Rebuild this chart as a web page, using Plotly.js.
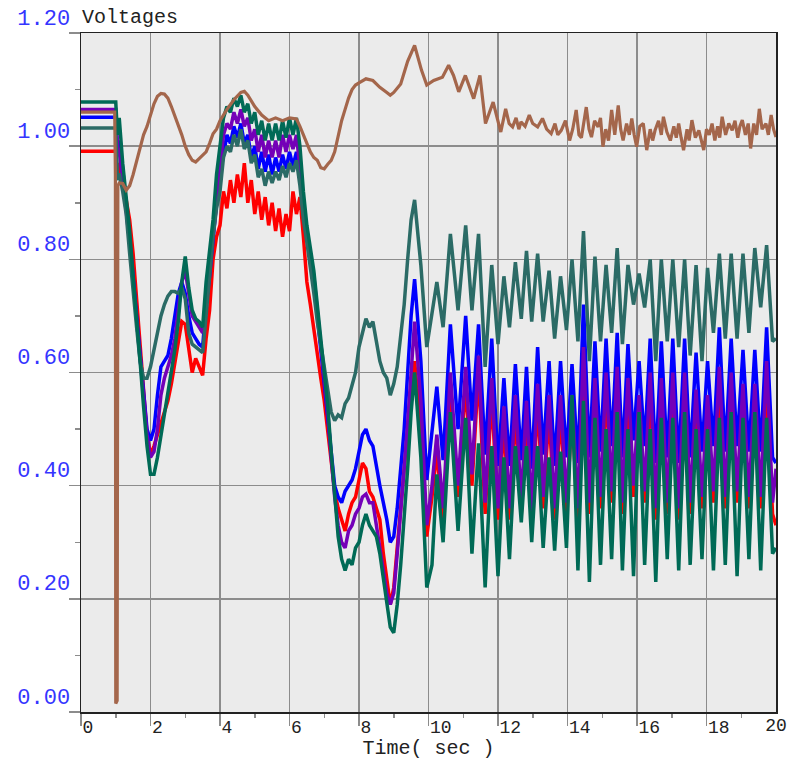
<!DOCTYPE html>
<html><head><meta charset="utf-8">
<script src="https://cdn.plot.ly/plotly-3.0.1.min.js"></script>
<style>html,body{margin:0;padding:0;background:#fff;} #chart{width:789px;height:760px;}</style>
</head><body><div id="chart"></div>
<script>
// shared time samples (s) for the five bus voltages
const timeS = [0, 1.0, 1.05,
 1.1,1.2,1.3,1.4,1.5,1.6,1.7,1.8,1.9,2.0,
 2.1,2.2,2.3,2.4,2.5,2.6,2.7,2.8,2.9,3.0,
 3.1,3.2,3.3,3.4,3.5,3.6,3.7,3.8,3.9,4.0,
 4.1,4.2,4.3,4.4,4.5,4.6,4.7,4.8,4.9,5.0,
 5.1,5.2,5.3,5.4,5.5,5.6,5.7,5.8,5.9,6.0,
 6.1,6.2,6.3,6.4,6.5,6.6,6.7,6.8,6.9,7.0,
 7.1,7.2,7.3,7.4,7.5,7.6,7.7,7.8,7.9,8.0,
 8.1,8.2,8.3,8.4,8.5,8.6,8.7,8.8,8.9,9.0,
 9.1,9.2,9.3,9.4,9.5,
 9.6,9.78,9.95,10.1,10.24,10.42,10.63,10.85,11.07,11.25,
 11.44,11.63,11.82,12.0,12.17,12.33,12.5,12.67,12.82,12.97,
 13.14,13.3,13.47,13.63,13.8,13.97,14.13,14.3,14.46,14.63,
 14.79,14.95,15.11,15.27,15.43,15.58,15.74,15.9,16.06,16.22,
 16.38,16.54,16.7,16.87,17.03,17.2,17.37,17.53,17.7,17.87,
 18.03,18.2,18.37,18.54,18.71,18.88,19.05,19.22,19.39,19.56,
 19.73,19.9,20.0];

const redV = [0.991, 0.991, 0.95,
 0.97,0.93,0.905,0.87,0.81,0.73,0.65,0.56,0.49,0.455,
 0.47,0.49,0.51,0.53,0.55,0.58,0.62,0.66,0.69,0.685,
 0.64,0.60,0.625,0.61,0.595,0.66,0.71,0.80,0.84,0.86,
 0.92,0.89,0.94,0.90,0.95,0.91,0.97,0.90,0.94,0.88,
 0.92,0.87,0.91,0.86,0.90,0.85,0.89,0.84,0.88,0.85,
 0.92,0.88,0.91,0.84,0.76,0.72,0.68,0.63,0.59,0.55,
 0.50,0.45,0.39,0.36,0.34,0.32,0.35,0.37,0.38,0.41,
 0.44,0.43,0.39,0.38,0.36,0.34,0.28,0.23,0.19,0.22,
 0.29,0.35,0.43,0.50,0.58,
 0.62,0.50,0.31,0.38,0.46,0.34,0.57,0.38,0.58,0.40,
 0.60,0.35,0.56,0.34,0.51,0.34,0.53,0.35,0.52,0.335,
 0.55,0.36,0.53,0.34,0.53,0.35,0.53,0.34,0.60,0.35,
 0.56,0.36,0.57,0.37,0.58,0.35,0.56,0.38,0.53,0.37,
 0.57,0.34,0.56,0.35,0.57,0.34,0.57,0.35,0.54,0.36,
 0.53,0.37,0.58,0.36,0.57,0.37,0.55,0.36,0.55,0.36,
 0.59,0.35,0.33];

const blueV = [1.051, 1.051, 0.99,
 1.01,0.96,0.90,0.84,0.77,0.70,0.63,0.56,0.50,0.48,
 0.50,0.56,0.61,0.62,0.63,0.66,0.70,0.74,0.76,0.74,
 0.70,0.67,0.66,0.65,0.645,0.72,0.77,0.84,0.90,0.95,
 0.99,1.02,1.005,1.035,1.015,1.04,1.005,1.02,0.98,1.0,
 0.96,0.99,0.955,0.985,0.95,0.98,0.955,0.985,0.96,0.99,
 0.965,0.99,0.95,0.88,0.84,0.80,0.76,0.70,0.64,0.58,
 0.52,0.45,0.40,0.38,0.37,0.39,0.40,0.41,0.43,0.46,
 0.49,0.50,0.48,0.47,0.43,0.40,0.37,0.34,0.30,0.31,
 0.36,0.43,0.50,0.60,0.70,
 0.765,0.62,0.41,0.50,0.575,0.445,0.685,0.50,0.70,0.515,
 0.685,0.455,0.66,0.435,0.59,0.435,0.615,0.445,0.61,0.43,
 0.645,0.455,0.62,0.435,0.62,0.45,0.615,0.44,0.72,0.45,
 0.655,0.46,0.66,0.47,0.67,0.45,0.65,0.48,0.62,0.47,
 0.66,0.44,0.655,0.45,0.66,0.44,0.66,0.45,0.635,0.46,
 0.62,0.47,0.68,0.46,0.66,0.47,0.64,0.46,0.64,0.46,
 0.68,0.45,0.44];

const purpleV = [1.065, 1.065, 1.0,
 0.99,0.94,0.89,0.83,0.76,0.69,0.62,0.55,0.49,0.45,
 0.46,0.50,0.56,0.59,0.61,0.63,0.66,0.71,0.76,0.78,
 0.74,0.70,0.69,0.68,0.67,0.72,0.78,0.84,0.91,0.97,
 1.02,1.04,1.03,1.06,1.04,1.065,1.035,1.05,1.01,1.03,
 0.99,1.02,0.98,1.01,0.98,1.01,0.98,1.02,0.99,1.02,
 0.995,1.02,0.96,0.89,0.84,0.81,0.77,0.71,0.65,0.59,
 0.53,0.45,0.38,0.33,0.30,0.29,0.32,0.33,0.35,0.36,
 0.38,0.385,0.37,0.37,0.33,0.28,0.25,0.21,0.19,0.21,
 0.28,0.35,0.43,0.51,0.60,
 0.69,0.55,0.33,0.40,0.49,0.36,0.60,0.40,0.61,0.42,
 0.63,0.37,0.59,0.36,0.54,0.36,0.56,0.37,0.55,0.355,
 0.58,0.38,0.56,0.36,0.56,0.37,0.56,0.36,0.645,0.37,
 0.59,0.38,0.60,0.39,0.61,0.37,0.59,0.40,0.56,0.39,
 0.60,0.36,0.59,0.37,0.60,0.36,0.60,0.37,0.57,0.38,
 0.56,0.39,0.61,0.38,0.60,0.39,0.58,0.38,0.58,0.38,
 0.62,0.37,0.43];

const tealV = [1.032, 1.032, 0.94,
 0.952,0.92,0.88,0.81,0.74,0.68,0.62,0.59,0.59,0.61,
 0.64,0.67,0.70,0.72,0.735,0.743,0.743,0.74,0.75,0.73,
 0.67,0.65,0.645,0.64,0.635,0.70,0.77,0.84,0.89,0.92,
 0.98,1.0,0.99,1.02,1.0,1.03,0.995,1.01,0.97,0.985,
 0.945,0.96,0.93,0.955,0.935,0.955,0.94,0.965,0.945,0.97,
 0.955,0.975,0.93,0.87,0.83,0.79,0.74,0.69,0.65,0.61,
 0.57,0.53,0.515,0.525,0.52,0.545,0.555,0.58,0.60,0.645,
 0.67,0.695,0.68,0.69,0.655,0.62,0.60,0.59,0.56,0.58,
 0.61,0.66,0.72,0.80,0.87,
 0.905,0.79,0.645,0.71,0.76,0.68,0.845,0.71,0.86,0.71,
 0.845,0.61,0.79,0.65,0.77,0.68,0.795,0.695,0.815,0.69,
 0.81,0.69,0.78,0.66,0.77,0.675,0.80,0.655,0.85,0.62,
 0.805,0.655,0.79,0.67,0.82,0.65,0.79,0.72,0.775,0.715,
 0.80,0.62,0.80,0.655,0.80,0.645,0.80,0.63,0.79,0.62,
 0.785,0.67,0.81,0.66,0.81,0.66,0.81,0.67,0.82,0.715,
 0.825,0.655,0.66];

const greenV = [1.078, 1.078, 1.02,
 1.05,0.97,0.91,0.85,0.77,0.70,0.62,0.54,0.47,0.42,
 0.42,0.45,0.49,0.52,0.56,0.60,0.64,0.69,0.76,0.805,
 0.75,0.71,0.695,0.69,0.68,0.76,0.81,0.87,0.95,1.0,
 1.05,1.07,1.06,1.085,1.07,1.09,1.06,1.075,1.04,1.06,
 1.02,1.045,1.01,1.04,1.01,1.04,1.01,1.045,1.015,1.05,
 1.02,1.05,1.0,0.92,0.86,0.82,0.78,0.72,0.66,0.60,
 0.54,0.46,0.38,0.31,0.27,0.25,0.27,0.26,0.29,0.30,
 0.33,0.35,0.33,0.32,0.31,0.28,0.24,0.20,0.15,0.14,
 0.19,0.26,0.34,0.43,0.53,
 0.60,0.45,0.22,0.26,0.42,0.30,0.53,0.32,0.52,0.28,
 0.475,0.22,0.47,0.24,0.45,0.27,0.47,0.335,0.47,0.30,
 0.47,0.29,0.45,0.285,0.46,0.29,0.56,0.25,0.55,0.23,
 0.52,0.26,0.50,0.27,0.53,0.25,0.50,0.24,0.53,0.26,
 0.50,0.23,0.52,0.27,0.52,0.25,0.53,0.26,0.50,0.27,
 0.50,0.25,0.52,0.26,0.53,0.24,0.52,0.27,0.53,0.25,
 0.52,0.28,0.29];

// brown bus has its own samples
const brownTime = [0,0.97,0.99,1.0,1.04,1.06,1.1,1.2,1.3,1.4,1.5,1.6,1.7,1.8,1.9,2.0,
 2.1,2.2,2.3,2.4,2.5,2.6,2.7,2.8,2.9,3.0,3.1,3.2,3.3,3.4,3.5,3.6,3.7,3.8,3.9,4.0,
 4.2,4.4,4.6,4.7,4.8,5.0,5.2,5.4,5.6,5.8,6.0,6.2,6.3,6.4,6.5,6.6,6.7,6.8,6.9,7.0,
 7.1,7.2,7.3,7.4,7.5,7.6,7.7,7.8,7.9,8.0,8.2,8.4,8.6,8.8,8.9,9.0,9.2,9.4,9.6,9.8,
 9.95,10.15,10.4,10.58,10.72,10.87,11.06,11.3,11.48,11.64,11.86,12.08,12.22,12.32,
 12.42,12.52,12.6,12.66,12.78,12.9,13.0,13.14,13.28,13.4,13.53,13.64,13.72,13.82,
 13.94,14.06,14.15,14.25,14.33,14.4,14.47,14.54,14.62,14.69,14.78,14.88,14.95,15.02,
 15.1,15.18,15.27,15.36,15.46,15.53,15.6,15.7,15.78,15.85,15.92,15.99,16.08,16.18,
 16.28,16.38,16.45,16.52,16.62,16.7,16.76,16.86,16.96,17.06,17.13,17.2,17.27,17.34,
 17.44,17.5,17.58,17.68,17.78,17.85,17.92,18.0,18.08,18.16,18.24,18.32,18.38,18.45,
 18.55,18.64,18.74,18.82,18.9,18.96,19.03,19.12,19.2,19.27,19.36,19.44,19.52,19.6,
 19.71,19.78,19.86,19.93,20.0];
const brownV = [1.06,1.06,0.95,0.015,0.02,0.93,0.935,0.934,0.922,0.93,0.95,0.975,1.0,1.02,1.035,1.055,
 1.075,1.088,1.093,1.092,1.085,1.07,1.053,1.04,1.02,1.0,0.985,0.975,0.972,0.978,0.984,0.99,1.005,1.022,1.03,1.045,
 1.065,1.082,1.095,1.097,1.09,1.07,1.055,1.045,1.05,1.045,1.05,1.048,1.035,1.02,1.005,0.99,0.98,0.975,0.962,0.96,
 0.968,0.975,0.99,1.02,1.045,1.065,1.085,1.10,1.108,1.112,1.119,1.116,1.104,1.095,1.09,1.095,1.11,1.15,1.178,1.134,
 1.108,1.116,1.122,1.143,1.125,1.096,1.125,1.084,1.125,1.04,1.078,1.025,1.066,1.04,
 1.034,1.05,1.03,1.043,1.035,1.055,1.04,1.034,1.049,1.03,1.022,1.04,1.02,1.028,
 1.045,1.01,1.03,1.064,1.02,1.015,1.045,1.069,1.03,1.016,1.045,1.034,1.05,0.999,
 1.03,1.01,1.064,1.02,1.072,1.03,1.01,1.04,1.02,1.049,1.02,0.999,1.035,1.04,
 0.993,1.03,1.01,1.028,1.045,1.02,1.052,1.025,1.01,1.035,1.015,1.04,1.015,0.993,
 1.03,1.01,1.046,1.015,1.028,1.01,0.993,1.03,1.02,1.04,1.01,1.035,1.015,1.052,
 1.02,1.04,1.028,1.045,1.015,1.035,1.046,1.02,1.04,0.996,1.04,1.02,1.066,1.03,
 1.04,1.02,1.055,1.03,1.016];

const xMajor = [0,2,4,6,8,10,12,14,16,18];
const xLast = [20];
const xMinor = [1,3,5,7,9,11,13,15,17,19];
const yMajor = [0,0.2,0.4,0.6,0.8,1.0,1.2];
const yLabels = ['0.00','0.20','0.40','0.60','0.80','1.00','1.20'];

const mono = "'Courier New', 'Liberation Mono', 'DejaVu Sans Mono', monospace";

function tr(x, y, color, w) {
  return {x: x, y: y, type: 'scatter', mode: 'lines', line: {color: color, width: w || 3.5}, hoverinfo: 'skip', showlegend: false};
}

const brownTrace = tr(brownTime, brownV, '#a4664b', 3.2);
brownTrace.xaxis = 'x2';

const data = [
  tr(timeS, redV, '#ff0000'),
  tr(timeS, blueV, '#0000ff'),
  tr(timeS, purpleV, '#7400b8'),
  tr(timeS, tealV, '#2b6b66'),
  tr(timeS, greenV, '#006a56'),
  brownTrace
];

const layout = {
  width: 789, height: 760,
  margin: {l: 81, r: 13, t: 33, b: 48, pad: 0},
  paper_bgcolor: '#ffffff',
  plot_bgcolor: '#ebebeb',
  showlegend: false,
  title: {text: 'Voltages', font: {family: mono, size: 20, color: '#222'},
          xref: 'container', x: 82/789, xanchor: 'left',
          yref: 'container', y: 1 - 16/760, yanchor: 'middle'},
  xaxis: {
    range: [0, 20], tickmode: 'array', tickvals: xMajor, ticktext: xMajor.map(String),
    ticks: 'outside', ticklen: 12, tickwidth: 1.5, tickcolor: '#8c8c8c',
    ticklabelposition: 'outside right', ticklabelstandoff: -2,
    tickfont: {family: mono, size: 18, color: '#222'},
    showgrid: true, gridcolor: '#8c8c8c', gridwidth: 1.5,
    showline: true, linecolor: '#222', linewidth: 1.5, mirror: true, zeroline: false,
    minor: {tickmode: 'array', tickvals: xMinor, ticks: 'outside', ticklen: 4, tickcolor: '#8c8c8c', tickwidth: 1.5, showgrid: false},
    title: {text: 'Time( sec )', font: {family: mono, size: 20, color: '#222'}, standoff: 0}
  },
  // overlay axis (carries the brown trace) showing only the final "20" label, centred on its tick
  xaxis2: {
    overlaying: 'x', anchor: 'y', side: 'bottom',
    range: [0, 20], tickmode: 'array', tickvals: xLast, ticktext: xLast.map(String),
    ticks: '', ticklabelstandoff: 0,
    tickfont: {family: mono, size: 18, color: '#222'},
    showgrid: false, showline: false, zeroline: false
  },
  yaxis: {
    range: [0, 1.2], tickmode: 'array', tickvals: yMajor, ticktext: yLabels,
    ticks: 'outside', ticklen: 11, tickwidth: 1.5, tickcolor: '#8c8c8c',
    ticklabelposition: 'outside top', ticklabelstandoff: 5,
    tickfont: {family: mono, size: 22, color: '#3535ff'},
    showgrid: true, gridcolor: '#8c8c8c', gridwidth: 1.5,
    showline: true, linecolor: '#222', linewidth: 1.5, mirror: true, zeroline: false,
    minor: {dtick: 0.1, ticks: 'outside', ticklen: 5, tickcolor: '#8c8c8c', tickwidth: 1.5, showgrid: false}
  }
};

Plotly.newPlot('chart', data, layout, {displayModeBar: false, staticPlot: true});
</script></body></html>
